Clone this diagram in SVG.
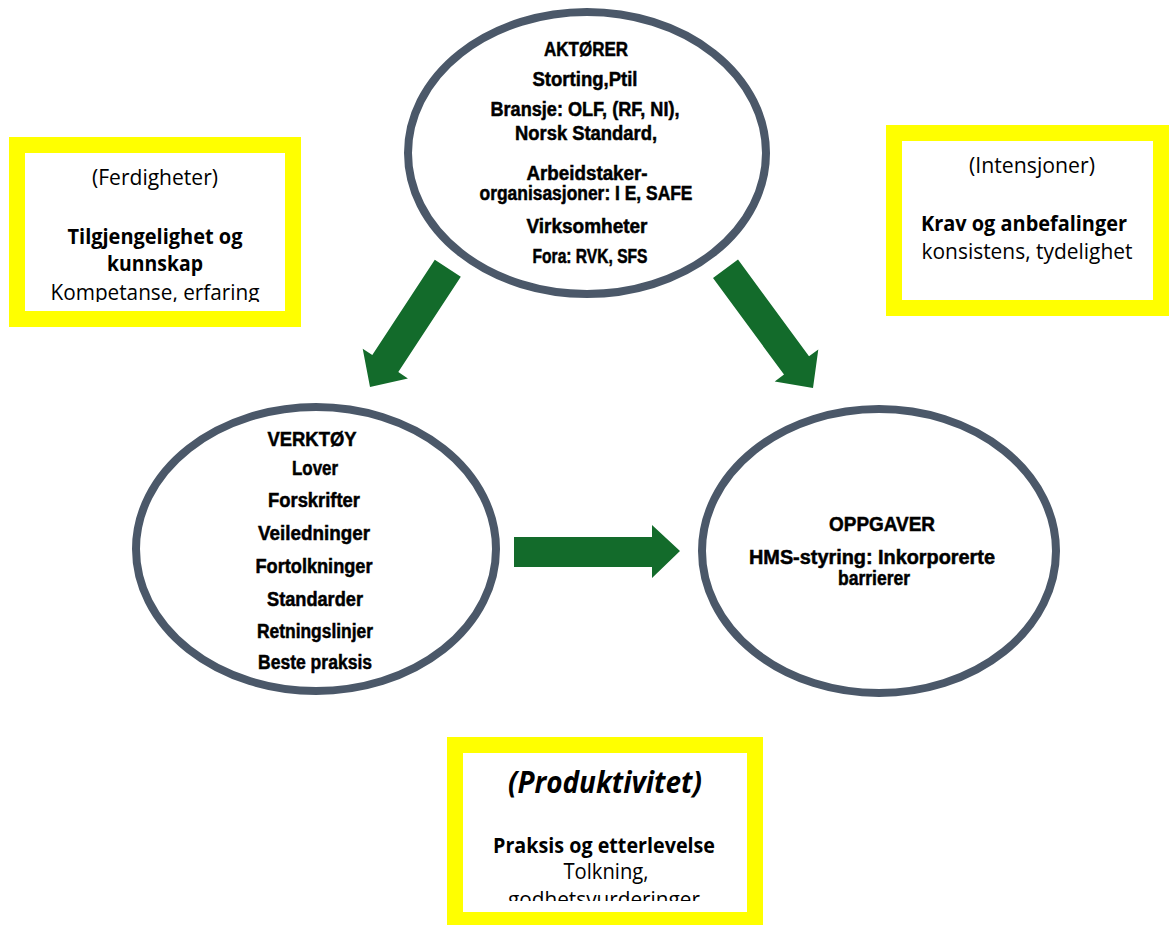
<svg xmlns="http://www.w3.org/2000/svg" width="1169" height="925" viewBox="0 0 1169 925">
<style>
.ell{fill:#ffffff;stroke:#4b5869;stroke-width:8}
.box{fill:#ffffff;stroke:#ffff00;stroke-width:16}
.et{font-family:"Liberation Sans",Arial,sans-serif;font-weight:bold;font-size:20px;fill:#000;stroke:#000;stroke-width:0.5;text-anchor:middle}
.bt{font-family:"Open Sans","Liberation Sans",sans-serif;font-size:21px;fill:#000;text-anchor:middle}
.b{font-weight:bold}
.big{font-size:31px;font-style:italic}
.arr{fill:#136b2b}
</style>
<defs>
<clipPath id="clipL"><rect x="25" y="153" width="260" height="149"/></clipPath>
<clipPath id="clipB"><rect x="463" y="753" width="284" height="148"/></clipPath>
</defs>
<rect width="1169" height="925" fill="#ffffff"/>

<g id="box-ferdigheter">
<rect class="box" x="17" y="145" width="276" height="174"/>
<g clip-path="url(#clipL)">
<text class="bt" x="155" y="185" textLength="126" lengthAdjust="spacingAndGlyphs">(Ferdigheter)</text>
<text class="bt b" x="155" y="244" textLength="175" lengthAdjust="spacingAndGlyphs">Tilgjengelighet og</text>
<text class="bt b" x="155" y="271" textLength="96" lengthAdjust="spacingAndGlyphs">kunnskap</text>
<text class="bt" x="155" y="300" textLength="209" lengthAdjust="spacingAndGlyphs">Kompetanse, erfaring</text>
</g>
</g>

<g id="box-intensjoner">
<rect class="box" x="894" y="133" width="267" height="175"/>
<text class="bt" x="1032" y="173" textLength="126" lengthAdjust="spacingAndGlyphs">(Intensjoner)</text>
<text class="bt b" x="1024" y="231" textLength="206" lengthAdjust="spacingAndGlyphs">Krav og anbefalinger</text>
<text class="bt" x="1027" y="259" textLength="211" lengthAdjust="spacingAndGlyphs">konsistens, tydelighet</text>
</g>

<g id="box-produktivitet">
<rect class="box" x="455" y="745" width="300" height="175"/>
<g clip-path="url(#clipB)">
<text class="bt b big" x="605" y="793" textLength="194" lengthAdjust="spacingAndGlyphs">(Produktivitet)</text>
<text class="bt b" x="604" y="853" textLength="222" lengthAdjust="spacingAndGlyphs">Praksis og etterlevelse</text>
<text class="bt" x="606" y="879" textLength="85" lengthAdjust="spacingAndGlyphs">Tolkning,</text>
<text class="bt" x="604" y="907" textLength="192" lengthAdjust="spacingAndGlyphs">godhetsvurderinger</text>
</g>
</g>

<g id="node-aktorer">
<ellipse class="ell" cx="587" cy="153" rx="179" ry="141"/>
<text class="et" x="586" y="56" textLength="84" lengthAdjust="spacingAndGlyphs">AKTØRER</text>
<text class="et" x="585" y="86" textLength="105" lengthAdjust="spacingAndGlyphs">Storting,Ptil</text>
<text class="et" x="585" y="116" textLength="189" lengthAdjust="spacingAndGlyphs">Bransje: OLF, (RF, NI),</text>
<text class="et" x="586" y="140" textLength="142" lengthAdjust="spacingAndGlyphs">Norsk Standard,</text>
<text class="et" x="587" y="180" textLength="121" lengthAdjust="spacingAndGlyphs">Arbeidstaker-</text>
<text class="et" x="586" y="200" textLength="213" lengthAdjust="spacingAndGlyphs">organisasjoner: I E, SAFE</text>
<text class="et" x="587" y="233" textLength="121" lengthAdjust="spacingAndGlyphs">Virksomheter</text>
<text class="et" x="590" y="263" textLength="115" lengthAdjust="spacingAndGlyphs">Fora: RVK, SFS</text>
</g>

<g id="node-verktoy">
<ellipse class="ell" cx="316" cy="549" rx="180" ry="142"/>
<text class="et" x="312" y="446" textLength="89" lengthAdjust="spacingAndGlyphs">VERKTØY</text>
<text class="et" x="315" y="475" textLength="46" lengthAdjust="spacingAndGlyphs">Lover</text>
<text class="et" x="314" y="507" textLength="92" lengthAdjust="spacingAndGlyphs">Forskrifter</text>
<text class="et" x="314" y="540" textLength="112" lengthAdjust="spacingAndGlyphs">Veiledninger</text>
<text class="et" x="314" y="573" textLength="117" lengthAdjust="spacingAndGlyphs">Fortolkninger</text>
<text class="et" x="315" y="606" textLength="96" lengthAdjust="spacingAndGlyphs">Standarder</text>
<text class="et" x="315" y="638" textLength="116" lengthAdjust="spacingAndGlyphs">Retningslinjer</text>
<text class="et" x="315" y="669" textLength="114" lengthAdjust="spacingAndGlyphs">Beste praksis</text>
</g>

<g id="node-oppgaver">
<ellipse class="ell" cx="879" cy="551" rx="177" ry="142"/>
<text class="et" x="882" y="531" textLength="106" lengthAdjust="spacingAndGlyphs">OPPGAVER</text>
<text class="et" x="872" y="564" textLength="246" lengthAdjust="spacingAndGlyphs">HMS-styring: Inkorporerte</text>
<text class="et" x="874" y="585" textLength="72" lengthAdjust="spacingAndGlyphs">barrierer</text>
</g>

<g id="connectors">
<polygon class="arr" points="434.8,259.8 460.8,276.8 398.3,372.1 407.9,378.4 370,387 362.7,348.8 372.3,355.1"/>
<polygon class="arr" points="713.0,277.9 738.0,259.5 809.0,356.2 818.3,349.4 813,388 774.7,381.4 784.0,374.6"/>
<polygon class="arr" points="514,537 652,537 652,525 680,551 652,578 652,567 514,567"/>
</g>
</svg>
